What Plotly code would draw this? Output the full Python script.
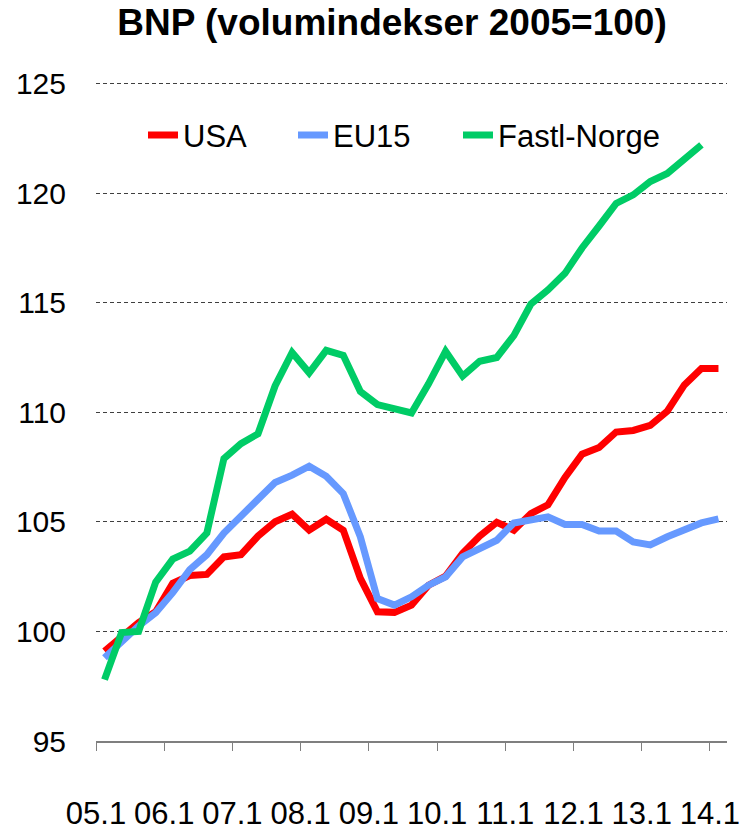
import plotly.graph_objects as go

# Quarterly index, 2005 = 100 (2005Q1 .. 2014Q1)
quarters = [f"{y:02d}.{q}" for y in range(5, 15) for q in range(1, 5)][:37]

usa = [99.1, 99.8, 100.4, 100.9, 102.2, 102.55, 102.6, 103.4, 103.5, 104.35,
       105.0, 105.35, 104.62, 105.12, 104.62, 102.42, 100.9, 100.87, 101.2, 102.11,
       102.52, 103.56, 104.35, 104.98, 104.62, 105.38, 105.78, 107.03, 108.09, 108.39,
       109.1, 109.17, 109.4, 110.05, 111.25, 112.0, 112.0]

eu15 = [98.8, 99.55, 100.25, 100.85, 101.77, 102.82, 103.5, 104.49, 105.27, 106.0,
        106.8, 107.13, 107.54, 107.08, 106.29, 104.32, 101.5, 101.2, 101.58, 102.11,
        102.49, 103.4, 103.78, 104.16, 104.95, 105.06, 105.23, 104.88, 104.88, 104.58,
        104.58, 104.08, 103.95, 104.32, 104.62, 104.95, 105.14]

fastl_norge = [97.8, 99.95, 100.0, 102.25, 103.3, 103.66, 104.49, 107.89, 108.57, 109.02,
               111.2, 112.73, 111.8, 112.83, 112.6, 110.95, 110.35, 110.15, 109.97, 111.3,
               112.78, 111.65, 112.33, 112.5, 113.5, 114.94, 115.58, 116.34, 117.5, 118.5,
               119.53, 119.92, 120.53, 120.9, 121.5, 122.2]

tick_labels = ["05.1", "06.1", "07.1", "08.1", "09.1", "10.1", "11.1", "12.1", "13.1", "14.1"]
y_ticks = [95, 100, 105, 110, 115, 120, 125]

series = [("USA", usa, "#FF0000", "legend"),
          ("EU15", eu15, "#6699FF", "legend2"),
          ("Fastl-Norge", fastl_norge, "#00CC66", "legend3")]

FONT = "Liberation Sans, Arial, sans-serif"
W, H = 754, 834
Y_MIN, Y_MAX = 95, 125.3
ML, MR, MB = 96, 27, 93
PX_PER_UNIT = 21.93
PH = (Y_MAX - Y_MIN) * PX_PER_UNIT
MT = H - MB - PH
PW = W - ML - MR

fig = go.Figure()
for name, vals, color, leg in series:
    fig.add_trace(go.Scatter(
        x=list(range(len(vals))), y=vals, name=name, mode="lines",
        line=dict(color=color, width=7), legend=leg, showlegend=True,
    ))

n = len(quarters)
tickpos = [4 * k - 0.5 for k in range(len(tick_labels))]

def legend_cfg(px):
    return dict(x=(px - ML) / PW, xanchor="left", y=(H - MB - 135) / PH, yanchor="middle",
                orientation="h", bgcolor="rgba(0,0,0,0)", borderwidth=0,
                font=dict(family=FONT, size=31, color="#000000"))

fig.update_layout(
    width=W, height=H, showlegend=True,
    margin=dict(l=ML, r=MR, t=MT, b=MB, pad=0, autoexpand=False),
    paper_bgcolor="white", plot_bgcolor="white",
    title=dict(text="<b>BNP (volumindekser 2005=100)</b>", x=392 / W, xanchor="center",
               xref="container", y=1 - 22 / H, yanchor="middle", yref="container",
               font=dict(family=FONT, size=37, color="#000000")),
    font=dict(family=FONT, color="#000000"),
    legend=legend_cfg(143),
    legend2=legend_cfg(293),
    legend3=legend_cfg(458),
    xaxis=dict(range=[-0.5, n - 0.5], tickmode="array", tickvals=tickpos, ticktext=tick_labels,
               ticks="outside", ticklen=8, tickwidth=1.3, tickcolor="#7F7F7F",
               showline=True, linecolor="#7F7F7F", linewidth=1.5, automargin=False,
               showgrid=False, zeroline=False, ticklabelstandoff=36,
               tickfont=dict(family=FONT, size=31, color="#000000")),
    yaxis=dict(range=[Y_MIN, Y_MAX], tickmode="array", tickvals=y_ticks, automargin=False,
               showgrid=True, gridcolor="#3F3F3F", gridwidth=1.2, griddash="4px,3px",
               zeroline=False, showline=False, ticks="", ticklabelstandoff=29,
               tickfont=dict(family=FONT, size=30, color="#000000")),
)

fig.write_html("out.html", config={"displayModeBar": False},
               post_script="document.body.style.margin='0px';")
